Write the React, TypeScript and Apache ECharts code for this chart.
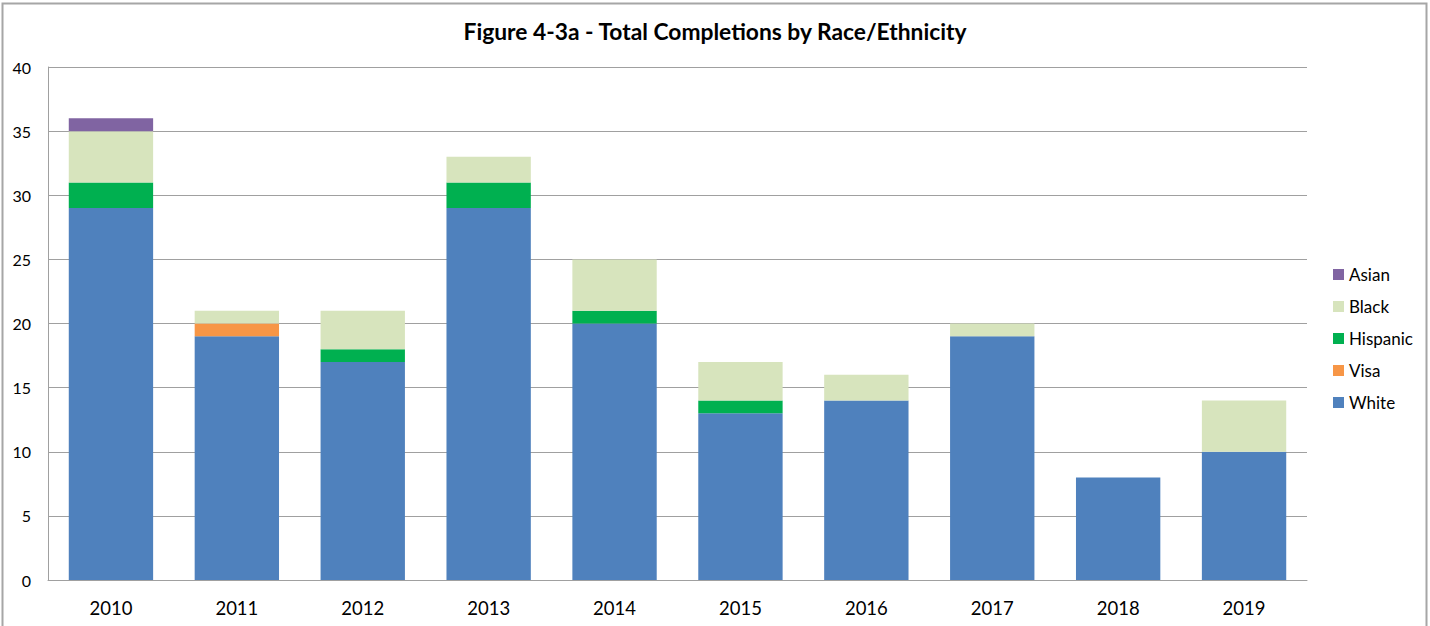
import React, { useEffect, useRef } from "react";
import * as echarts from "echarts";

const years = ["2010", "2011", "2012", "2013", "2014", "2015", "2016", "2017", "2018", "2019"];
const white = [29, 19, 17, 29, 20, 13, 14, 19, 8, 10];
const visa = [0, 1, 0, 0, 0, 0, 0, 0, 0, 0];
const hispanic = [2, 0, 1, 2, 1, 1, 0, 0, 0, 0];
const black = [4, 1, 3, 2, 4, 3, 2, 1, 0, 4];
const asian = [1, 0, 0, 0, 0, 0, 0, 0, 0, 0];
const yTicks = { min: 0, max: 40, interval: 5 };

const seriesDefs = [
  { name: "White", data: white, color: "#4F81BD" },
  { name: "Visa", data: visa, color: "#F79646" },
  { name: "Hispanic", data: hispanic, color: "#00B050" },
  { name: "Black", data: black, color: "#D7E4BD" },
  { name: "Asian", data: asian, color: "#8064A2" },
];

const FONT = "Lato, 'Noto Sans', sans-serif";

export default function App() {
  const ref = useRef<HTMLDivElement>(null);
  useEffect(() => {
    document.body.style.margin = "0";
    const chart = echarts.init(ref.current!, null, { renderer: "svg" });
    chart.setOption({
      animation: false,
      backgroundColor: "#ffffff",
      textStyle: { fontFamily: FONT },
      title: {
        text: "Figure 4-3a - Total Completions by Race/Ethnicity",
        left: "center",
        top: 14,
        textStyle: { fontFamily: FONT, fontSize: 22.8, fontWeight: "bold", color: "#000" },
      },
      graphic: [
        {
          type: "rect",
          shape: { x: 2.5, y: 3.5, width: 1424, height: 700 },
          style: { fill: "none", stroke: "#a6a6a6", lineWidth: 2 },
          silent: true,
        },
      ],
      legend: {
        orient: "vertical",
        left: 1333,
        top: 266,
        padding: 0,
        itemWidth: 11,
        itemHeight: 11,
        itemGap: 15,
        icon: "rect",
        data: ["Asian", "Black", "Hispanic", "Visa", "White"],
        textStyle: { fontFamily: FONT, fontSize: 17, color: "#000", lineHeight: 17 },
      },
      grid: { left: 48, right: 123, top: 67, bottom: 46, containLabel: false },
      xAxis: {
        type: "category",
        data: years,
        axisLine: { lineStyle: { color: "#a0a0a0", width: 1 } },
        axisTick: { show: false },
        axisLabel: { color: "#000", fontSize: 18.5, margin: 18, fontFamily: FONT },
      },
      yAxis: {
        type: "value",
        min: yTicks.min,
        max: yTicks.max,
        interval: yTicks.interval,
        axisLine: { show: true, lineStyle: { color: "#a0a0a0", width: 1 } },
        axisTick: { show: false },
        splitLine: { lineStyle: { color: "#a0a0a0", width: 1 } },
        axisLabel: { color: "#000", fontSize: 16, margin: 17, fontFamily: FONT },
      },
      series: seriesDefs.map((s) => ({
        name: s.name,
        type: "bar",
        stack: "total",
        barCategoryGap: "33%",
        data: s.data,
        itemStyle: { color: s.color },
      })),
    });
    return () => chart.dispose();
  }, []);
  return <div ref={ref} style={{ width: 1430, height: 626 }} />;
}
